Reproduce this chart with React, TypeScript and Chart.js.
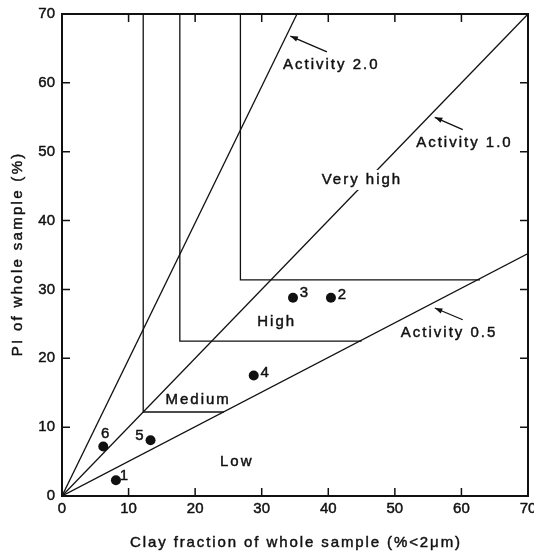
import React, { useEffect, useRef } from "react";
import { Chart, registerables } from "chart.js";

Chart.register(...registerables);

// ---------- data ----------
const AXIS_MIN = 0;
const AXIS_MAX = 70;
const TICK_STEP = 10;
const X_TITLE = "Clay fraction of whole sample (%<2μm)";
const Y_TITLE = "PI of whole sample (%)";

const ACTIVITY_2 = [{ x: 0, y: 0 }, { x: 35.3, y: 70 }];
const ACTIVITY_1 = [{ x: 0, y: 0 }, { x: 70, y: 70 }];
const ACTIVITY_05 = [{ x: 0, y: 0 }, { x: 70, y: 35.2 }];

const MEDIUM_BOUNDARY = [{ x: 12.2, y: 70 }, { x: 12.2, y: 12.2 }, { x: 24.3, y: 12.2 }];
const HIGH_BOUNDARY = [{ x: 17.7, y: 70 }, { x: 17.7, y: 22.5 }, { x: 45, y: 22.5 }];
const VERY_HIGH_BOUNDARY = [{ x: 26.8, y: 70 }, { x: 26.8, y: 31.4 }, { x: 62.8, y: 31.4 }];

const SAMPLE_IDS = ["1", "2", "3", "4", "5", "6"];
const SAMPLE_CLAY = [8.1, 40.4, 34.7, 28.8, 13.3, 6.2];
const SAMPLE_PI = [2.3, 28.8, 28.8, 17.5, 8.1, 7.2];

const REGION_LABELS = ["Very high", "High", "Medium", "Low"];
const REGION_X = [44.9, 32.1, 20.3, 26.1];
const REGION_Y = [45.9, 25.3, 13.9, 4.9];

const ACTIVITY_LABELS = ["Activity 2.0", "Activity 1.0", "Activity 0.5"];
const ACTIVITY_LABEL_X = [40.3, 60.3, 58.0];
const ACTIVITY_LABEL_Y = [62.6, 51.3, 23.7];
const ARROW_TAIL_X = [39.8, 60.2, 60.2];
const ARROW_TAIL_Y = [64.5, 53.2, 25.6];
const ARROW_TIP_X = [34.3, 56.0, 56.0];
const ARROW_TIP_Y = [66.8, 55.0, 27.3];

// ---------- style ----------
const INK = "#111";
const FONT = "Arial, 'Liberation Sans', sans-serif";
const REGION_KNOCKOUT = [true, false, false, false];
const POINT_LABEL_OFFSETS = [
  [8, -4],
  [11, -3],
  [11, -5],
  [11, -3],
  [-11, -4],
  [2, -13],
];

function drawSpaced(ctx: CanvasRenderingContext2D, text: string, x: number, y: number, spacing: number) {
  (ctx as any).letterSpacing = spacing + "px";
  const w = ctx.measureText(text).width;
  ctx.textAlign = "left";
  const x0 = x - (w - spacing) / 2;
  ctx.fillText(text, x0, y);
  ctx.strokeText(text, x0, y);
  (ctx as any).letterSpacing = "0px";
  return w;
}

const overlayPlugin = {
  id: "overlay",
  afterDatasetsDraw(chart: any) {
    const ctx: CanvasRenderingContext2D = chart.ctx;
    const xs = chart.scales.x;
    const ys = chart.scales.y;
    const { left, right, top, bottom } = chart.chartArea;
    ctx.save();
    ctx.strokeStyle = INK;
    ctx.fillStyle = INK;

    // frame
    ctx.lineWidth = 2;
    ctx.strokeRect(left, top, right - left, bottom - top);

    // inward ticks on all four sides
    ctx.lineWidth = 1.5;
    for (let v = AXIS_MIN + TICK_STEP; v < AXIS_MAX; v += TICK_STEP) {
      const px = xs.getPixelForValue(v);
      const py = ys.getPixelForValue(v);
      ctx.beginPath();
      ctx.moveTo(px, bottom); ctx.lineTo(px, bottom - 8);
      ctx.moveTo(px, top); ctx.lineTo(px, top + 8);
      ctx.moveTo(left, py); ctx.lineTo(left + 8, py);
      ctx.moveTo(right, py); ctx.lineTo(right - 8, py);
      ctx.stroke();
    }

    ctx.textBaseline = "middle";
    ctx.font = "15px " + FONT;
    ctx.lineWidth = 0.45;

    // tick labels from the scales' own ticks
    xs.ticks.forEach((t: any) => {
      const px = xs.getPixelForValue(t.value);
      ctx.textAlign = "center";
      ctx.fillText(String(t.value), px, bottom + 13);
      ctx.strokeText(String(t.value), px, bottom + 13);
    });
    ys.ticks.forEach((t: any) => {
      const py = ys.getPixelForValue(t.value);
      ctx.textAlign = "right";
      ctx.fillText(String(t.value), left - 7, py);
      ctx.strokeText(String(t.value), left - 7, py);
    });

    // region labels
    REGION_LABELS.forEach((t, i) => {
      const cx = xs.getPixelForValue(REGION_X[i]);
      const cy = ys.getPixelForValue(REGION_Y[i]);
      if (REGION_KNOCKOUT[i]) {
        (ctx as any).letterSpacing = "2px";
        const w = ctx.measureText(t).width;
        (ctx as any).letterSpacing = "0px";
        ctx.fillStyle = "#fff";
        ctx.fillRect(cx - w / 2 - 2, cy - 10, w + 4, 20);
        ctx.fillStyle = INK;
      }
      drawSpaced(ctx, t, cx, cy, 2);
    });

    // activity labels + arrows
    ACTIVITY_LABELS.forEach((t, i) => {
      const cx = xs.getPixelForValue(ACTIVITY_LABEL_X[i]);
      const cy = ys.getPixelForValue(ACTIVITY_LABEL_Y[i]);
      ctx.lineWidth = 0.45;
      drawSpaced(ctx, t, cx, cy, 2);
      const x0 = xs.getPixelForValue(ARROW_TAIL_X[i]);
      const y0 = ys.getPixelForValue(ARROW_TAIL_Y[i]);
      const x1 = xs.getPixelForValue(ARROW_TIP_X[i]);
      const y1 = ys.getPixelForValue(ARROW_TIP_Y[i]);
      ctx.lineWidth = 1.3;
      ctx.beginPath();
      ctx.moveTo(x0, y0);
      ctx.lineTo(x1, y1);
      ctx.stroke();
      const a = Math.atan2(y1 - y0, x1 - x0);
      const L = 8;
      ctx.beginPath();
      ctx.moveTo(x1, y1);
      ctx.lineTo(x1 - L * Math.cos(a - 0.35), y1 - L * Math.sin(a - 0.35));
      ctx.lineTo(x1 - L * Math.cos(a + 0.35), y1 - L * Math.sin(a + 0.35));
      ctx.closePath();
      ctx.fill();
    });

    // sample numbers
    ctx.lineWidth = 0.45;
    SAMPLE_IDS.forEach((t, i) => {
      const px = xs.getPixelForValue(SAMPLE_CLAY[i]) + POINT_LABEL_OFFSETS[i][0];
      const py = ys.getPixelForValue(SAMPLE_PI[i]) + POINT_LABEL_OFFSETS[i][1];
      ctx.textAlign = "center";
      ctx.fillText(t, px, py);
      ctx.strokeText(t, px, py);
    });

    // axis titles
    drawSpaced(ctx, X_TITLE, (left + right) / 2, 543, 1.9);
    ctx.save();
    ctx.translate(18, (top + bottom) / 2);
    ctx.rotate(-Math.PI / 2);
    drawSpaced(ctx, Y_TITLE, 0, 0, 2.3);
    ctx.restore();

    ctx.restore();
  },
};

function lineSet(data: { x: number; y: number }[]) {
  return {
    type: "line" as const,
    data,
    borderColor: INK,
    borderWidth: 1.3,
    pointRadius: 0,
    fill: false,
    tension: 0,
  };
}

export default function App() {
  const ref = useRef<HTMLCanvasElement | null>(null);
  useEffect(() => {
    if (!ref.current) return;
    const points = SAMPLE_CLAY.map((x, i) => ({ x, y: SAMPLE_PI[i] }));
    const chart = new Chart(ref.current, {
      type: "scatter",
      data: {
        datasets: [
          lineSet(ACTIVITY_2),
          lineSet(ACTIVITY_1),
          lineSet(ACTIVITY_05),
          lineSet(MEDIUM_BOUNDARY),
          lineSet(HIGH_BOUNDARY),
          lineSet(VERY_HIGH_BOUNDARY),
          {
            type: "scatter" as const,
            data: points,
            backgroundColor: INK,
            borderColor: INK,
            pointRadius: 5,
            borderWidth: 0,
          },
        ] as any,
      },
      options: {
        animation: false,
        responsive: false,
        layout: { padding: { left: 0, top: 14, right: 6, bottom: 0 } },
        plugins: { legend: { display: false }, tooltip: { enabled: false } },
        scales: {
          x: {
            type: "linear",
            min: AXIS_MIN,
            max: AXIS_MAX,
            grid: { display: false, drawTicks: false },
            border: { display: false },
            ticks: { stepSize: TICK_STEP, display: false },
            afterFit: (s: any) => {
              s.height = 58;
              s.paddingLeft = 0;
              s.paddingRight = 0;
            },
          },
          y: {
            type: "linear",
            min: AXIS_MIN,
            max: AXIS_MAX,
            grid: { display: false, drawTicks: false },
            border: { display: false },
            ticks: { stepSize: TICK_STEP, display: false },
            afterFit: (s: any) => {
              s.width = 62;
              s.paddingTop = 0;
              s.paddingBottom = 0;
            },
          },
        },
      },
      plugins: [overlayPlugin],
    } as any);
    return () => chart.destroy();
  }, []);
  return (
    <div style={{ position: "absolute", left: 0, top: 0, width: 534, height: 554, background: "#fff" }}>
      <canvas ref={ref} width={534} height={554} style={{ width: 534, height: 554 }} />
    </div>
  );
}
